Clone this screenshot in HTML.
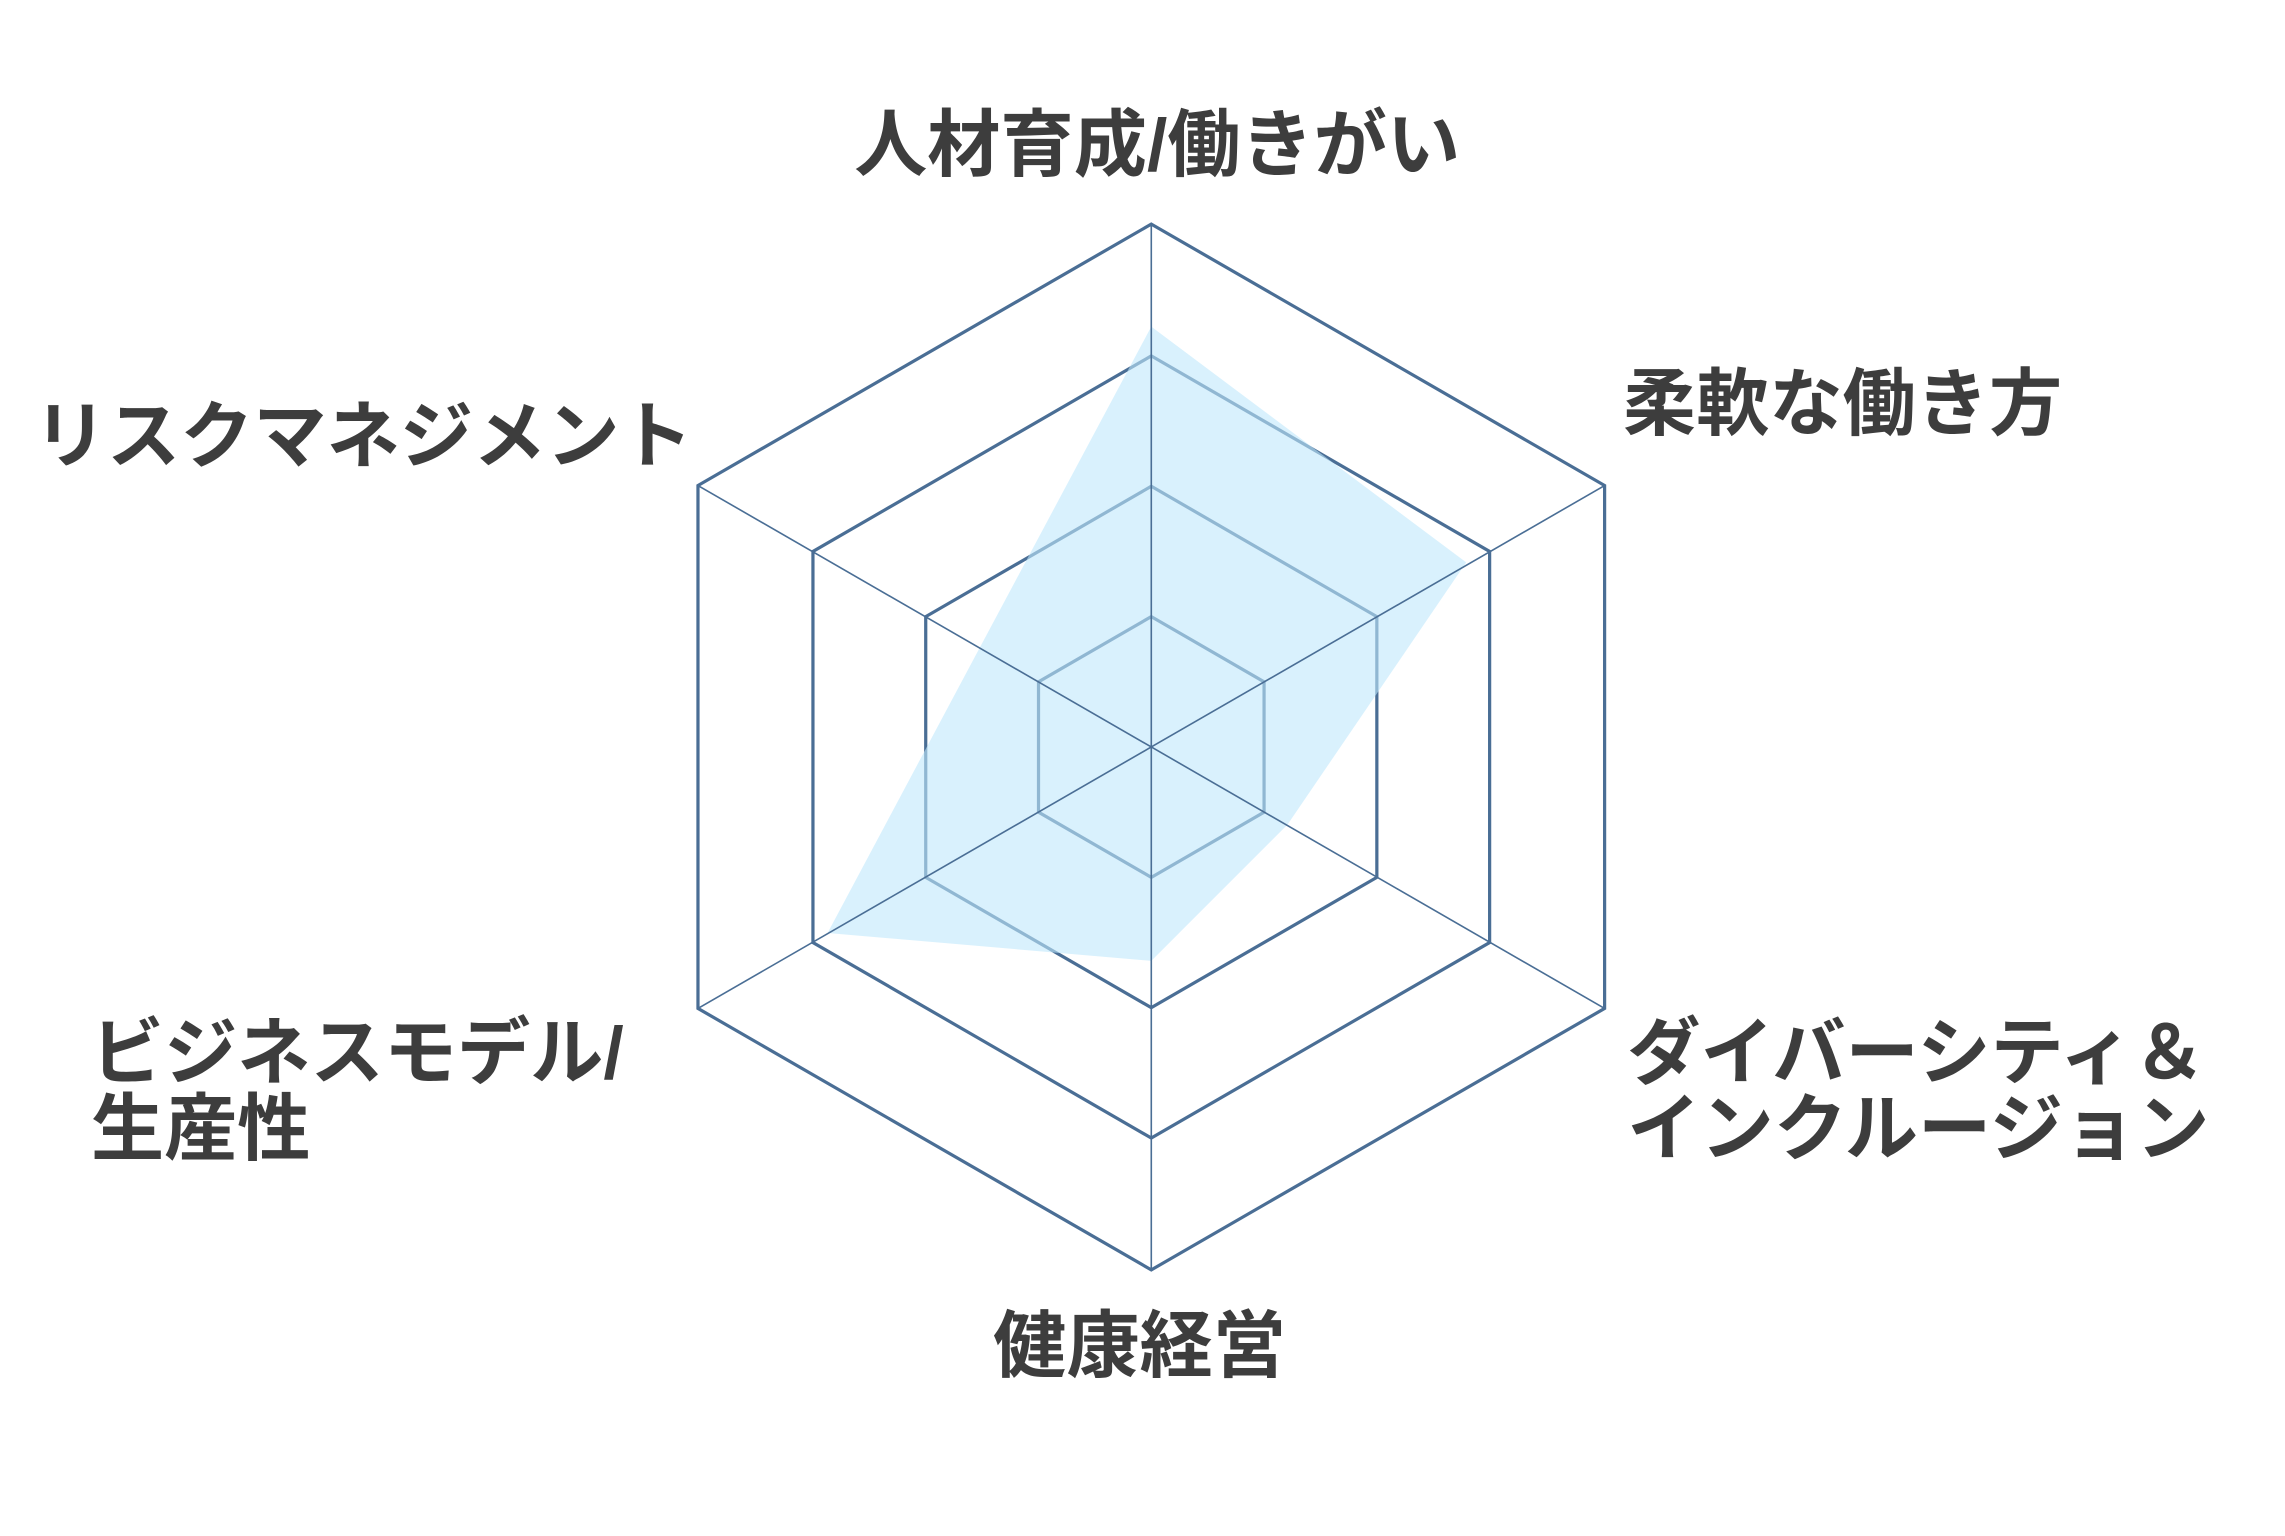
<!DOCTYPE html>
<html><head><meta charset="utf-8"><style>
html,body{margin:0;padding:0;background:#fff;}
svg{display:block;}
text{font-family:"Liberation Sans","Noto Sans CJK JP",sans-serif;font-weight:bold;fill:#3d3d3d;font-size:50px;}
</style></head><body>
<svg width="2285" height="1536" viewBox="0 0 1560 1048.7" xmlns="http://www.w3.org/2000/svg">
<rect width="1560" height="1048.7" fill="#fff"/>
<g transform="translate(-3,0)">
<!-- rings -->
<g fill="none" stroke="#4a6e95" stroke-width="2.2">
<polygon points="789,421 866,465.5 866,554.5 789,599 712,554.5 712,465.5"/>
<polygon points="789,332 943,421 943,599 789,688 635,599 635,421"/>
<polygon points="789,243 1020,376.5 1020,643.5 789,777 558,643.5 558,376.5"/>
<polygon points="789,153 1098.5,331.5 1098.5,688.5 789,867 479.5,688.5 479.5,331.5"/>
</g>
<!-- data polygon -->
<polygon points="789,223 1004,384 882,563 789,656 568,637 672,442" fill="rgb(192,232,252)" fill-opacity="0.6"/>
<!-- spokes -->
<g stroke="#4a6e95" stroke-width="1.1">
<line x1="789" y1="510" x2="789" y2="153"/>
<line x1="789" y1="510" x2="1098.5" y2="331.5"/>
<line x1="789" y1="510" x2="1098.5" y2="688.5"/>
<line x1="789" y1="510" x2="789" y2="867"/>
<line x1="789" y1="510" x2="479.5" y2="688.5"/>
<line x1="789" y1="510" x2="479.5" y2="331.5"/>
</g>
</g>
<!-- labels -->
<text x="790" y="116" text-anchor="middle">人材育成/働きがい</text>
<text x="1108" y="293">柔軟な働き方</text>
<text x="23" y="315">リスクマネジメント</text>
<text x="62" y="736">ビジネスモデル/</text>
<text x="62" y="788">生産性</text>
<text x="1111" y="736">ダイバーシティ＆</text>
<text x="1111" y="788">インクルージョン</text>
<text x="778" y="936" text-anchor="middle">健康経営</text>
</svg>
</body></html>
